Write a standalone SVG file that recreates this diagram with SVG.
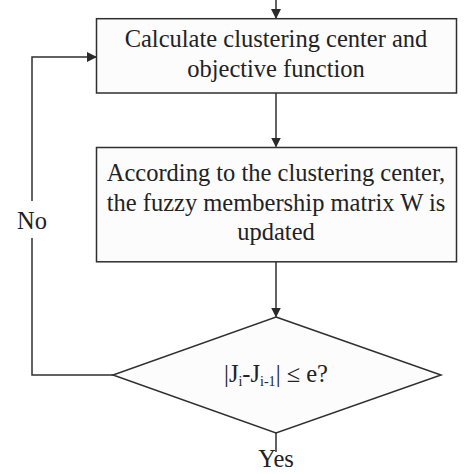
<svg xmlns="http://www.w3.org/2000/svg" width="474" height="474" viewBox="0 0 474 474">
<defs>
<marker id="ah" markerWidth="10" markerHeight="10" refX="9" refY="5" orient="auto" markerUnits="userSpaceOnUse">
<path d="M0,0 L10,5 L0,10 Z" fill="#2a2a2a"/>
</marker>
<style>
.box{fill:#fcfcfc;stroke:#2f2f2f;stroke-width:1.5}
.ln{fill:none;stroke:#2f2f2f;stroke-width:1.5}
text{font-family:"Liberation Serif","DejaVu Serif",serif;font-size:24.5px;fill:#222;text-anchor:middle}
.sub{font-size:14px}
</style>
</defs>
<rect width="474" height="474" fill="#ffffff"/>
<g id="connectors">
<path class="ln" d="M276,0 V18" marker-end="url(#ah)"/>
<path class="ln" d="M276,93 V146.5" marker-end="url(#ah)"/>
<path class="ln" d="M276,262 V316.5" marker-end="url(#ah)"/>
<path class="ln" d="M113,375 H32 V238"/>
<path class="ln" d="M32,201 V57 H96" marker-end="url(#ah)"/>
<path class="ln" d="M276,433 V452"/>
<text x="32" y="229">No</text>
<text x="276" y="467">Yes</text>
</g>
<g id="calc">
<rect class="box" x="96.5" y="18.7" width="360" height="74.3"/>
<text x="276" y="47">Calculate clustering center and</text>
<text x="276" y="77">objective function</text>
</g>
<g id="update">
<rect class="box" x="96.5" y="147.5" width="360" height="114.3"/>
<text x="276" y="181">According to the clustering center,</text>
<text x="276" y="211">the fuzzy membership matrix W is</text>
<text x="276" y="240">updated</text>
</g>
<g id="decision">
<polygon class="box" points="276,317 441,375 276,433 113,375"/>
<text x="276" y="382"><tspan>|J</tspan><tspan class="sub" dy="4">i</tspan><tspan dy="-4">-J</tspan><tspan class="sub" dy="4">i-1</tspan><tspan dy="-4">| ≤ e?</tspan></text>
</g>
</svg>
